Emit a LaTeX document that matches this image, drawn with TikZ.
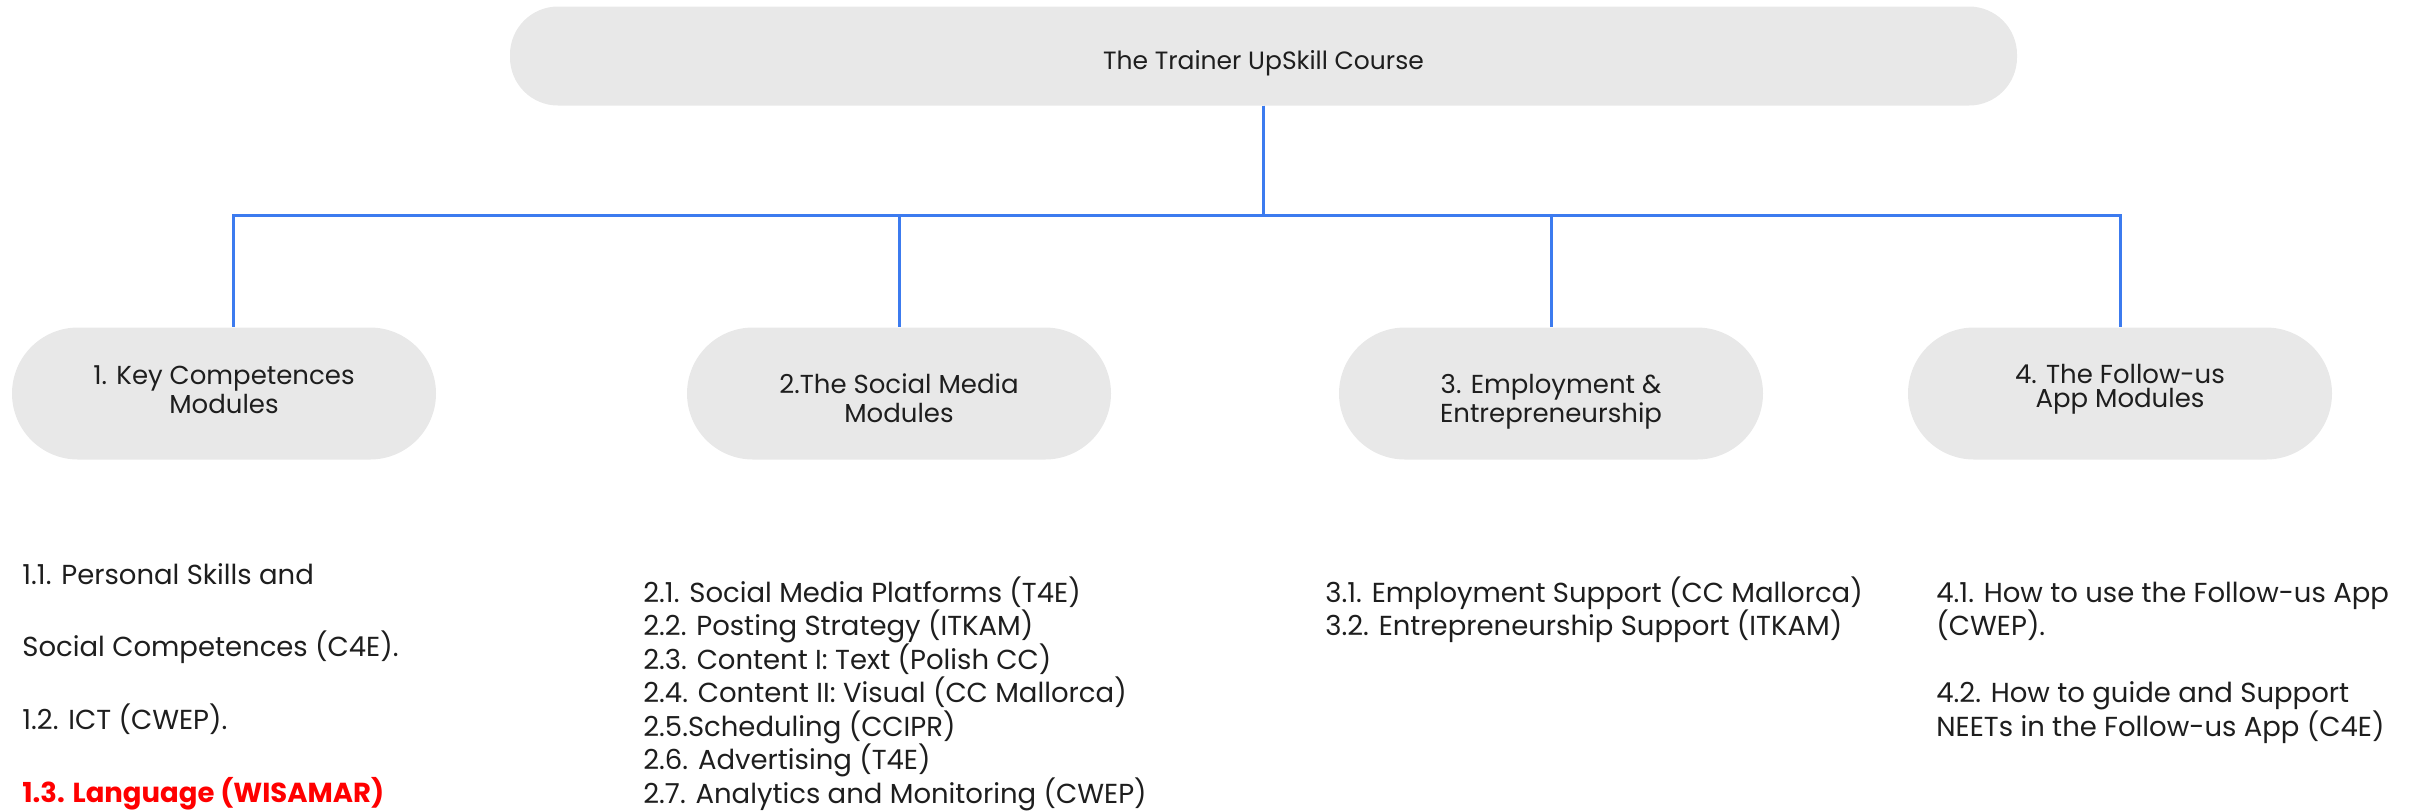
\documentclass[tikz,border=0pt]{standalone}
\usepackage{fontspec}
\setmainfont{Poppins}
\definecolor{boxgray}{HTML}{E8E8E8}
\definecolor{linkblue}{HTML}{3C7BEF}
\definecolor{ink}{HTML}{1E1E1E}
\begin{document}
\begin{tikzpicture}[x=0.5pt, y=-0.5pt, every node/.style={text=ink},
    course/.style={fill=boxgray, rounded corners=24pt, minimum width=753.5pt, minimum height=49.5pt, text height=13pt, text depth=0pt, font=\fontsize{12.5}{14}\selectfont},
    module/.style={fill=boxgray, rounded corners=33pt, minimum width=212pt, minimum height=66pt, align=center, text depth=0pt, font=\fontsize{13}{14.5}\selectfont},
    items/.style={anchor=base west, align=left, inner sep=0pt, font=\fontsize{13.75}{16.75}\selectfont},
    link/.style={draw=linkblue, line width=1.5pt}]
       \useasboundingbox (0,0) rectangle (2422,811);
       \node[course] (0) at (1263.5, 56) {The Trainer UpSkill Course};
       \node[module, text height=19.5pt] (1) at (224, 393.5)  {1. Key Competences\\Modules};
       \node[module, text height=28.5pt] (2) at (899, 393.5)  {2.The Social Media\\Modules};
       \node[module, text height=28.5pt] (3) at (1551, 393.5) {3. Employment \&\\Entrepreneurship};
       \node[module, text height=13.5pt, font=\fontsize{13}{12}\selectfont] (4) at (2120, 393.5) {4. The Follow-us\\App Modules};

       \draw[link] (0.south) -- ++(0,110) -| ([xshift=4.5pt]1.north);
       \foreach \p in {2,3,4}{ \draw[link] (0.south) -- ++(0,110) -| (\p.north); }

       \node[items, font=\fontsize{13.75}{36.3}\selectfont] (1a) at (22, 802) {1.1. Personal Skills and\\Social Competences (C4E).\\1.2. ICT (CWEP).\\{\color{red}\bfseries 1.3. Language (WISAMAR)}};
       \node[items] (2a) at (643, 803) {2.1. Social Media Platforms (T4E)\\2.2. Posting Strategy (ITKAM)\\2.3. Content I: Text (Polish CC)\\2.4. Content II: Visual (CC Mallorca)\\2.5.Scheduling (CCIPR)\\2.6. Advertising (T4E)\\2.7. Analytics and Monitoring (CWEP)};
       \node[items] (3a) at (1325, 635.5) {3.1. Employment Support (CC Mallorca)\\3.2. Entrepreneurship Support (ITKAM)};
       \node[items] (4a) at (1936, 736) {4.1. How to use the Follow-us App\\(CWEP).\\[16.75pt]4.2. How to guide and Support\\NEETs in the Follow-us App (C4E)};
     \end{tikzpicture}
\end{document}
